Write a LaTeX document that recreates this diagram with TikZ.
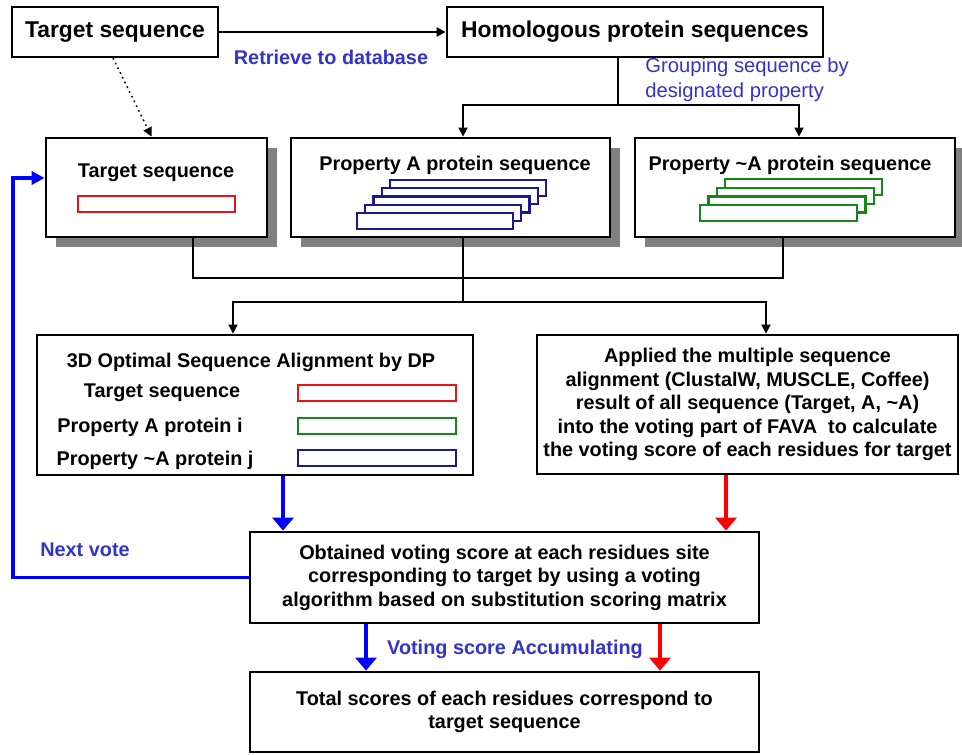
\documentclass[tikz,border=0pt]{standalone}
\usepackage{fontspec}
\setmainfont{Liberation Sans}
\usetikzlibrary{arrows.meta,shadows}
\definecolor{notecol}{RGB}{51,51,200}
\definecolor{seqred}{RGB}{230,20,25}
\definecolor{seqgreen}{RGB}{20,135,20}
\definecolor{seqblue}{RGB}{25,25,140}

\begin{document}
\begin{tikzpicture}[x=0.02cm,y=-0.02cm,
  box/.style={draw,line width=1.6pt,fill=white,inner sep=0pt},
  shbox/.style={box,drop shadow={shadow xshift=0.2cm,shadow yshift=-0.2cm,fill=black!50,opacity=1}},
  txt/.style={font=\bfseries\fontsize{11.3}{13.4}\selectfont,align=center,inner sep=0pt},
  bigtxt/.style={font=\bfseries\fontsize{13}{15}\selectfont},
  note/.style={text=notecol,font=\bfseries\fontsize{11.3}{13.4}\selectfont,inner sep=0pt},
  conn/.style={line width=1pt},
  arr/.style={conn,-{Triangle[width=0.18cm,length=0.18cm]}},
  barr/.style={line width=2.2pt,blue,-{Triangle[width=0.42cm,length=0.26cm]}},
  rarr/.style={barr,red},
  seq/.style={line width=1.4pt,fill=white,draw=#1}]
\useasboundingbox (0,0) rectangle (962,754);

\node[box,bigtxt,minimum width=4.12cm,minimum height=1cm] (tgt) at (115,32) {Target sequence};
\node[box,bigtxt,minimum width=7.52cm,minimum height=1cm] (homo) at (635,32) {Homologous protein sequences};

\node[shbox,minimum width=4.42cm,minimum height=1.98cm] (tgtA) at (156.5,187.5) {};
\node[shbox,minimum width=6.38cm,minimum height=1.98cm] (propA) at (450.5,187.5) {};
\node[shbox,minimum width=6.4cm,minimum height=1.98cm] (propN) at (795,187.5) {};

\node[txt] (tgtAt) at (156,173) {Target sequence};
\node[txt] (propAt) at (455,165) {Property A protein sequence};
\node[txt] (propNt) at (790,165) {Property \textasciitilde A protein sequence};
\draw[seq=seqred] (78,196) rectangle (235,212);
\foreach \i in {4,...,0}
  \draw[seq=seqblue] (357+8.25*\i,213-8.25*\i) rectangle +(156,16);
\foreach \i in {3,...,0}
  \draw[seq=seqgreen] (700+8.4*\i,205-8.6*\i) rectangle +(157,16);

\node[box,minimum width=8.72cm,minimum height=2.8cm] (dp) at (255,405) {};
\node[txt] (dpt) at (251,362) {3D Optimal Sequence Alignment by DP};
\node[txt] (dp1) at (162,393) {Target sequence};
\node[txt] (dp2) at (150,427) {Property A protein i};
\node[txt] (dp3) at (155,460) {Property \textasciitilde A protein j};
\draw[seq=seqred] (298,385) rectangle (456,401);
\draw[seq=seqgreen] (298,418) rectangle (456,434);
\draw[seq=seqblue] (298,450) rectangle (456,466);

\node[box,txt,minimum width=8.42cm,minimum height=2.78cm] (msa) at (747.5,404.5) {Applied the multiple sequence\\ alignment (ClustalW, MUSCLE, Coffee)\\ result of all sequence (Target, A, \textasciitilde A)\\ into the voting part of FAVA\ \ to calculate\\ the voting score of each residues for target};

\node[box,txt,minimum width=10.18cm,minimum height=1.82cm] (vote) at (504.5,577.5) {Obtained voting score at each residues site\\ corresponding to target by using a voting\\ algorithm based on substitution scoring matrix};
\node[box,txt,minimum width=10.18cm,minimum height=1.6cm] (total) at (504.5,712) {Total scores of each residues correspond to\\ target sequence};

\node[note] (retr) at (331,57) {Retrieve to database};
\node[note,anchor=west,align=left,font=\fontsize{11.5}{14.2}\selectfont] (grp) at (645,80) {Grouping sequence by\\ designated property};
\node[note] (next) at (85,550) {Next vote};
\node[note] (accu) at (515,649) {Voting score Accumulating};

\coordinate (g) at (618,105);
\coordinate (gA) at (463,105);
\coordinate (gN) at (799,105);
\coordinate (mA) at (193,278);
\coordinate (mN) at (783,278);
\coordinate (m) at (463,302);
\coordinate (sL) at (233,302);
\coordinate (sR) at (766,302);
\coordinate (bA) at (283,500);
\coordinate (rA) at (726,500);
\coordinate (bB) at (366,650);
\coordinate (rB) at (660,650);
\coordinate (nv) at (13,178);

\draw[arr] (tgt.east) -- (homo.west);
\draw[arr,dotted,line width=0.8pt] (113,58) -- ([xshift=-0.1cm]tgtA.north);
\draw[conn] (g |- homo.south) -- (g);
\draw[arr] (g) -- (gA) -- (gA |- propA.north);
\draw[arr] (g) -- (gN) -- (gN |- propN.north);
\draw[conn] (mA |- tgtA.south) -- (mA) -- (mN) -- (mN |- propN.south);
\draw[conn] (m |- propA.south) -- (m);
\draw[arr] (m) -- (sL) -- (sL |- dp.north);
\draw[arr] (m) -- (sR) -- (sR |- msa.north);
\draw[barr] (bA |- dp.south) -- (bA |- vote.north);
\draw[rarr] (rA |- msa.south) -- (rA |- vote.north);
\draw[barr] (bB |- vote.south) -- (bB |- total.north);
\draw[rarr] (rB |- vote.south) -- (rB |- total.north);
\draw[line width=2.2pt,blue,-{Triangle[width=0.26cm,length=0.26cm]}] (vote.west) -| (nv) -- (nv -| tgtA.west);

\end{tikzpicture}
\end{document}
